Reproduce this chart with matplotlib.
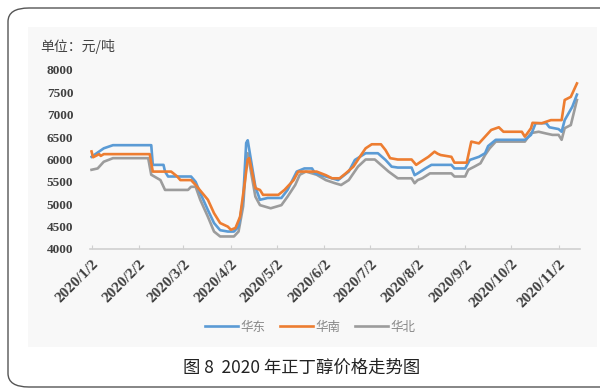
import numpy as np
import pandas as pd
import matplotlib
matplotlib.use('Agg')
import matplotlib.pyplot as plt
from matplotlib.patches import FancyBboxPatch, Rectangle

plt.rcParams['font.family'] = ['Noto Sans CJK SC', 'DejaVu Sans']

# 华东 (east)
east_dates = ['2020-01-02', '2020-01-10', '2020-01-16', '2020-02-10', '2020-02-11', '2020-02-18',
              '2020-02-19', '2020-02-21', '2020-03-07', '2020-03-10', '2020-03-13', '2020-03-18',
              '2020-03-22', '2020-03-26', '2020-03-31', '2020-04-04', '2020-04-07', '2020-04-10',
              '2020-04-12', '2020-04-13', '2020-04-18', '2020-04-21', '2020-04-26', '2020-05-05',
              '2020-05-09', '2020-05-15', '2020-05-20', '2020-05-25', '2020-05-27', '2020-06-03',
              '2020-06-11', '2020-06-18', '2020-06-22', '2020-06-29', '2020-07-07', '2020-07-12',
              '2020-07-16', '2020-07-20', '2020-07-29', '2020-07-31', '2020-08-02', '2020-08-07',
              '2020-08-11', '2020-08-24', '2020-08-26', '2020-09-02', '2020-09-05', '2020-09-11',
              '2020-09-15', '2020-09-17', '2020-09-22', '2020-10-11', '2020-10-15', '2020-10-18',
              '2020-10-25', '2020-10-27', '2020-11-02', '2020-11-04', '2020-11-06', '2020-11-11',
              '2020-11-14']
east = [6060, 6250, 6320, 6320, 5880, 5880, 5730, 5620, 5620, 5500, 5250, 4870,
        4580, 4420, 4390, 4390, 4500, 5100, 6370, 6430, 5390, 5100, 5140, 5140,
        5320, 5730, 5800, 5800, 5690, 5620, 5540, 5730, 5990, 6140, 6140, 5990,
        5840, 5820, 5820, 5650, 5690, 5800, 5880, 5880, 5800, 5800, 5990, 6060,
        6140, 6300, 6440, 6440, 6550, 6810, 6810, 6720, 6680, 6620, 6880, 7180,
        7450]

# 华南 (south)
south_dates = ['2020-01-02', '2020-01-03', '2020-01-07', '2020-01-08', '2020-01-10', '2020-02-09',
               '2020-02-11', '2020-02-23', '2020-02-27', '2020-02-29', '2020-03-07', '2020-03-10',
               '2020-03-18', '2020-03-22', '2020-03-26', '2020-03-31', '2020-04-02', '2020-04-05',
               '2020-04-08', '2020-04-11', '2020-04-13', '2020-04-14', '2020-04-18', '2020-04-21',
               '2020-04-23', '2020-05-03', '2020-05-07', '2020-05-13', '2020-05-16', '2020-05-28',
               '2020-06-03', '2020-06-07', '2020-06-12', '2020-06-16', '2020-06-21', '2020-06-26',
               '2020-06-29', '2020-07-03', '2020-07-09', '2020-07-12', '2020-07-15', '2020-07-20',
               '2020-07-29', '2020-08-01', '2020-08-04', '2020-08-09', '2020-08-13', '2020-08-15',
               '2020-08-17', '2020-08-24', '2020-08-26', '2020-09-03', '2020-09-06', '2020-09-11',
               '2020-09-15', '2020-09-19', '2020-09-24', '2020-09-27', '2020-10-09', '2020-10-11',
               '2020-10-15', '2020-10-16', '2020-10-22', '2020-10-28', '2020-11-04', '2020-11-06',
               '2020-11-10', '2020-11-12', '2020-11-14']
south = [6180, 6050, 6120, 6080, 6120, 6120, 5730, 5730, 5620, 5540, 5540, 5430,
         5100, 4800, 4580, 4500, 4430, 4470, 4720, 5470, 6000, 6030, 5360, 5320,
         5210, 5210, 5320, 5540, 5730, 5730, 5650, 5580, 5580, 5690, 5840, 6100,
         6250, 6340, 6340, 6210, 6030, 6000, 6000, 5880, 5950, 6060, 6175, 6130,
         6100, 6060, 5930, 5930, 6400, 6360, 6510, 6660, 6720, 6620, 6620, 6510,
         6700, 6820, 6810, 6880, 6880, 7330, 7400, 7550, 7700]

# 华北 (north)
north_dates = ['2020-01-02', '2020-01-06', '2020-01-10', '2020-01-16', '2020-02-08', '2020-02-10',
               '2020-02-16', '2020-02-19', '2020-03-05', '2020-03-07', '2020-03-10', '2020-03-13',
               '2020-03-18', '2020-03-22', '2020-03-26', '2020-04-04', '2020-04-07', '2020-04-10',
               '2020-04-12', '2020-04-13', '2020-04-18', '2020-04-21', '2020-04-28', '2020-05-05',
               '2020-05-09', '2020-05-14', '2020-05-17', '2020-05-21', '2020-05-28', '2020-06-03',
               '2020-06-09', '2020-06-13', '2020-06-18', '2020-06-24', '2020-06-29', '2020-07-05',
               '2020-07-09', '2020-07-14', '2020-07-20', '2020-07-29', '2020-07-31', '2020-08-02',
               '2020-08-05', '2020-08-10', '2020-08-24', '2020-08-26', '2020-09-02', '2020-09-04',
               '2020-09-08', '2020-09-12', '2020-09-15', '2020-09-18', '2020-09-22', '2020-10-11',
               '2020-10-15', '2020-10-20', '2020-10-25', '2020-10-29', '2020-11-02', '2020-11-04',
               '2020-11-06', '2020-11-10', '2020-11-14']
north = [5770, 5800, 5950, 6030, 6030, 5660, 5540, 5320, 5320, 5390, 5390, 5100,
         4720, 4390, 4280, 4280, 4390, 4950, 5900, 6140, 5170, 4980, 4910, 4980,
         5170, 5430, 5660, 5730, 5660, 5540, 5470, 5430, 5540, 5840, 6000, 6000,
         5880, 5730, 5580, 5580, 5470, 5540, 5580, 5690, 5690, 5620, 5620, 5770,
         5840, 5915, 6100, 6250, 6400, 6400, 6590, 6620, 6580, 6550, 6550, 6440,
         6700, 6770, 7330]

tick_dates = ['2020-01-02', '2020-02-02', '2020-03-02', '2020-04-02', '2020-05-02', '2020-06-02',
              '2020-07-02', '2020-08-02', '2020-09-02', '2020-10-02', '2020-11-02']
tick_labels = ['2020/1/2', '2020/2/2', '2020/3/2', '2020/4/2', '2020/5/2', '2020/6/2',
               '2020/7/2', '2020/8/2', '2020/9/2', '2020/10/2', '2020/11/2']
y_ticks = [4000, 4500, 5000, 5500, 6000, 6500, 7000, 7500, 8000]

fig = plt.figure(figsize=(6, 3.9), dpi=100)
fig.patch.set_facecolor('white')

# rounded outer frame and grey panel
frame = FancyBboxPatch((8 / 600, 3 / 390), 620 / 600, 379 / 390,
                       boxstyle='round,pad=0,rounding_size=0.035',
                       transform=fig.transFigure, facecolor='white',
                       edgecolor='#555555', linewidth=1.0, zorder=-2)
fig.patches.append(frame)
panel = Rectangle((28 / 600, 1 - 347 / 390), 569 / 600, 320 / 390,
                  transform=fig.transFigure, facecolor='#f8f8f8',
                  edgecolor='none', zorder=-1)
fig.patches.append(panel)

ax = fig.add_axes([90 / 600, 1 - 249 / 390, 490 / 600, 179 / 390])
ax.set_zorder(1)
ax.set_facecolor('none')

ax.plot(pd.to_datetime(north_dates), north, color='#9c9c9c', lw=1.9, label='华北', zorder=2)
ax.plot(pd.to_datetime(east_dates), east, color='#5b9bd5', lw=1.9, label='华东', zorder=3)
ax.plot(pd.to_datetime(south_dates), south, color='#ed7d31', lw=1.9, label='华南', zorder=4)

ax.set_ylim(4000, 8000)
ax.set_xlim(pd.Timestamp('2020-01-01'), pd.Timestamp('2020-11-16'))
ax.set_yticks(y_ticks)
ax.set_yticklabels([str(v) for v in y_ticks], family='Liberation Serif',
                   fontweight='bold', fontsize=9.5, color='#404040')
ax.set_xticks(pd.to_datetime(tick_dates))
ax.set_xticklabels(tick_labels, rotation=45, ha='right', rotation_mode='anchor',
                   family='Liberation Serif', fontweight='bold', fontsize=11, color='#404040')
for s in ['top', 'right', 'left']:
    ax.spines[s].set_visible(False)
ax.spines['bottom'].set_color('#d0d0d0')
ax.spines['bottom'].set_linewidth(1.2)
ax.tick_params(axis='y', length=0, pad=12)
ax.tick_params(axis='x', direction='in', length=3, color='#d0d0d0', pad=6)

fig.text(40 / 600, 1 - 47 / 390, '单位：元/吨', fontsize=10, color='#444444', va='center')

handles, labels = ax.get_legend_handles_labels()
order = [1, 2, 0]
fig.legend([handles[i] for i in order], [labels[i] for i in order],
           loc='center', bbox_to_anchor=(310 / 600, 1 - 327 / 390), ncol=3,
           frameon=False, fontsize=9, labelcolor='#888888', handlelength=2.6,
           handletextpad=0.2, columnspacing=1.2)

fig.text(302 / 600, 1 - 368 / 390, '图 8  2020 年正丁醇价格走势图', fontsize=12.5,
         color='#222222', ha='center', va='center')

fig.savefig('out.png', dpi=100)
